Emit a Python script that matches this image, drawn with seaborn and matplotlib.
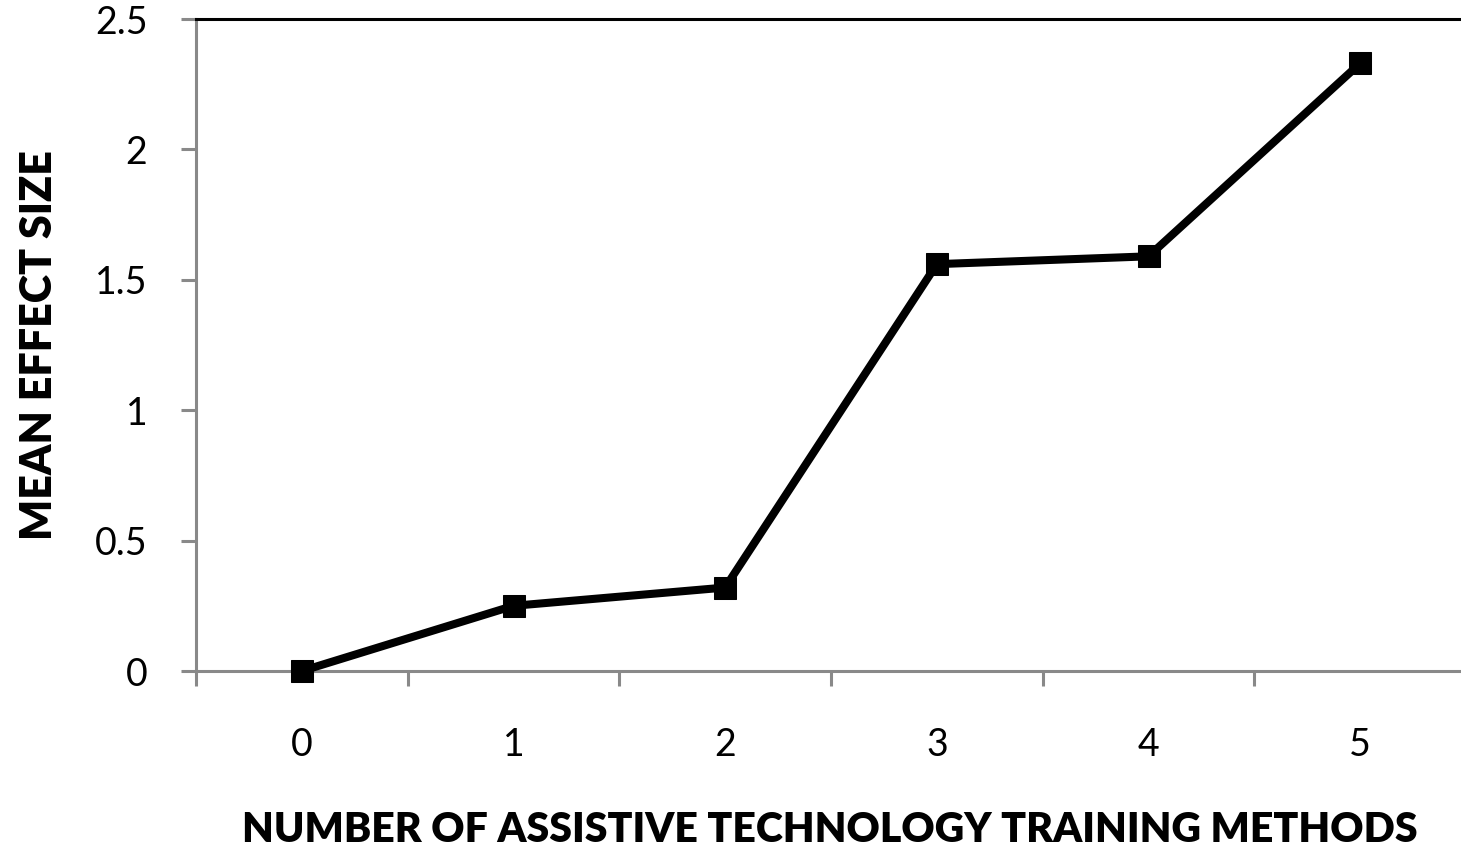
import numpy as np
import pandas as pd
import matplotlib
matplotlib.use("Agg")
import matplotlib.pyplot as plt
import seaborn as sns

# データ
n_methods = [0, 1, 2, 3, 4, 5]
mean_effect = [0.0, 0.25, 0.32, 1.56, 1.59, 2.33]
y_ticks = [0, 0.5, 1, 1.5, 2, 2.5]
y_tick_labels = ["0", "0.5", "1", "1.5", "2", "2.5"]
x_label = "NUMBER OF ASSISTIVE TECHNOLOGY TRAINING METHODS"
y_label = "MEAN EFFECT SIZE"

sns.set_theme(style="white")
plt.rcParams['font.family'] = ['Lato', 'DejaVu Sans']

df = pd.DataFrame({"n": n_methods, "effect": mean_effect})

fig = plt.figure(figsize=(14.61, 8.49), dpi=100)
ax = fig.add_axes([196 / 1461, 178 / 849, 1270 / 1461, 652 / 849])

sns.lineplot(data=df, x="n", y="effect", ax=ax, color="black",
             linewidth=5.8, marker="s", markersize=16,
             markeredgecolor="black", clip_on=False, zorder=5)

gray = "#898989"
ax.set_xlim(-0.5, 5.5)
ax.set_ylim(0, 2.5)

# x軸: 区切り位置に目盛、カテゴリ中央にラベル
ax.set_xticks(np.arange(-0.5, 6.0, 1.0))
ax.set_xticklabels([])
ax.set_xticks(n_methods, minor=True)
ax.set_xticklabels([str(v) for v in n_methods], minor=True)
ax.tick_params(axis="x", which="major", direction="out", length=11,
               width=2.2, color=gray, bottom=True)
ax.tick_params(axis="x", which="minor", length=0, pad=40, labelsize=27,
               labelcolor="black")

ax.set_yticks(y_ticks)
ax.set_yticklabels(y_tick_labels)
ax.tick_params(axis="y", direction="out", length=11, width=2.2,
               color=gray, left=True, pad=24, labelsize=27,
               labelcolor="black")

for side in ["left", "bottom"]:
    ax.spines[side].set_color(gray)
    ax.spines[side].set_linewidth(2.2)
ax.spines["top"].set_color("black")
ax.spines["top"].set_linewidth(2.2)
ax.spines["right"].set_visible(False)
ax.grid(False)

ax.set_xlabel(x_label, fontsize=29.5, fontweight="heavy", color="black")
ax.set_ylabel(y_label, fontsize=31, fontweight="heavy", color="black")
ax.xaxis.set_label_coords(0.499, -0.215)
ax.yaxis.set_label_coords(-0.108, 0.5)

fig.savefig("out.png", dpi=100)
plt.close(fig)
